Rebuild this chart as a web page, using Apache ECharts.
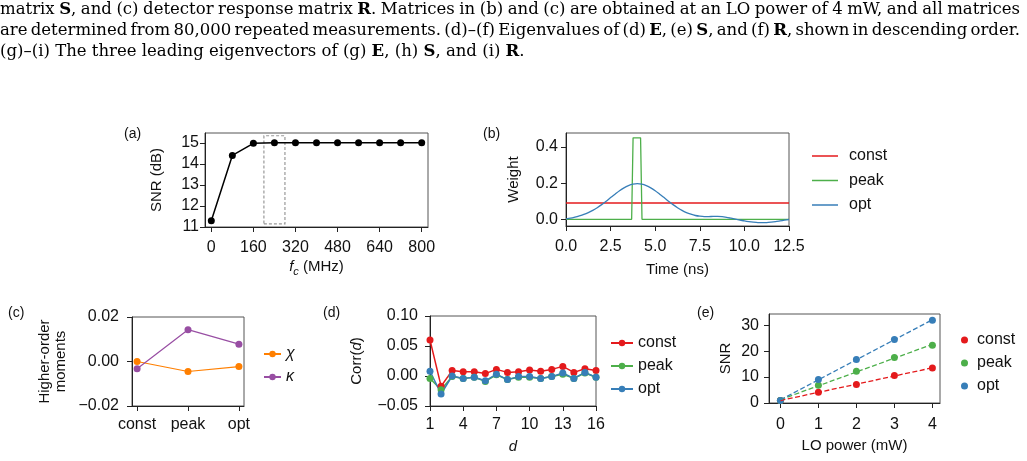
<!DOCTYPE html>
<html>
<head>
<meta charset="utf-8">
<script src="https://cdn.jsdelivr.net/npm/echarts@6/dist/echarts.min.js"></script>
<style>
html, body { margin: 0; padding: 0; background: #fff; }
#main { width: 1027px; height: 461px; }
</style>
</head>
<body>
<div id="main"></div>
<script>
// caption lines above the figure
const captionLines = [
  'matrix {b|S}, and (c) detector response matrix {b|R}. Matrices in (b) and (c) are obtained at an LO power of 4 mW, and all matrices',
  'are determined from 80,000 repeated measurements. (d)–(f) Eigenvalues of (d) {b|E}, (e) {b|S}, and (f) {b|R}, shown in descending order.',
  '(g)–(i) The three leading eigenvectors of (g) {b|E}, (h) {b|S}, and (i) {b|R}.'
];

// (a) SNR vs cutoff frequency
const fcMHz = [0, 80, 160, 240, 320, 400, 480, 560, 640, 720, 800];
const snrDb = [11.3, 14.41, 14.99, 15.01, 15.02, 15.02, 15.02, 15.02, 15.02, 15.02, 15.02];
const fcBox = [[200, 11.15], [280, 15.35]];
const fcTicks = [0, 160, 320, 480, 640, 800];
const snrDbTicks = [11, 12, 13, 14, 15];

// (b) weight functions
const timeNs = [0, 0.25, 0.5, 0.75, 1, 1.25, 1.5, 1.75, 2, 2.25, 2.5, 2.75, 3, 3.25, 3.5, 3.75, 4,
  4.25, 4.5, 4.75, 5, 5.25, 5.5, 5.75, 6, 6.25, 6.5, 6.75, 7, 7.25, 7.5, 7.75, 8, 8.25, 8.5, 8.75,
  9, 9.25, 9.5, 9.75, 10, 10.25, 10.5, 10.75, 11, 11.25, 11.5, 11.75, 12, 12.25, 12.5];
const weightOpt = [0.002, 0.006, 0.012, 0.019, 0.027, 0.037, 0.049, 0.064, 0.081, 0.100, 0.120, 0.139,
  0.158, 0.174, 0.186, 0.194, 0.197, 0.194, 0.186, 0.174, 0.158, 0.139, 0.120, 0.100, 0.081, 0.064,
  0.049, 0.037, 0.028, 0.021, 0.017, 0.015, 0.015, 0.016, 0.016, 0.015, 0.011, 0.006, 0.001, -0.004,
  -0.009, -0.013, -0.016, -0.018, -0.018, -0.018, -0.016, -0.013, -0.009, -0.005, -0.001];
const constTime = [0, 12.5];
const weightConst = [0.09, 0.09];
const peakTime = [0, 3.68, 3.76, 4.18, 4.26, 12.5];
const weightPeak = [0, 0, 0.45, 0.45, 0, 0];
const timeTicks = [0, 2.5, 5, 7.5, 10, 12.5];
const weightTicks = [0, 0.2, 0.4];

// (c) higher-order moments
const weightNames = ['const', 'peak', 'opt'];
const chi = [0.0, -0.0045, -0.0023];
const kappa = [-0.0033, 0.0143, 0.0078];
const momentTicks = [-0.02, 0, 0.02];

// (d) correlation vs lag
const lagD = [1, 2, 3, 4, 5, 6, 7, 8, 9, 10, 11, 12, 13, 14, 15, 16];
const corrConst = [0.060, -0.017, 0.009, 0.007, 0.007, 0.004, 0.011, 0.006, 0.007, 0.010, 0.008, 0.011, 0.016, 0.006, 0.012, 0.009];
const corrPeak = [-0.004, -0.023, -0.001, -0.004, -0.002, -0.009, 0.002, -0.006, -0.002, -0.002, -0.004, -0.001, 0.003, -0.004, 0.005, -0.002];
const corrOpt = [0.008, -0.030, 0.000, -0.004, -0.002, -0.008, 0.003, -0.006, -0.001, -0.001, -0.004, -0.001, 0.005, -0.004, 0.006, -0.002];
const lagTicks = [1, 4, 7, 10, 13, 16];
const corrTicks = [-0.05, 0, 0.05, 0.10];

// (e) SNR vs LO power
const loPower = [0, 1, 2, 3, 4];
const snrConst = [1.0, 4.1, 7.1, 10.6, 13.5];
const snrPeak = [1.0, 6.8, 12.2, 17.5, 22.3];
const snrOpt = [1.0, 9.1, 16.8, 24.5, 31.9];
const fitEnds = [0, 4];
const fitConst = [0.96, 13.56];
const fitPeak = [1.3, 22.6];
const fitOpt = [1.22, 32.1];
const powerTicks = [0, 1, 2, 3, 4];
const snrTicks = [0, 10, 20, 30];

const SANS = '"Liberation Sans", Arial, sans-serif';
const SERIF = '"DejaVu Serif", serif';
const RED = '#e41a1c', GREEN = '#4daf4a', BLUE = '#377eb8', ORANGE = '#ff7f00', PURPLE = '#984ea3';

const zip = (xs, ys) => xs.map((x, i) => [x, ys[i]]);
const minusFmt = (d) => (v) => (v < -1e-9 ? '\u2212' : '') + Math.abs(v).toFixed(d);
const stripTag = (name) => name.replace(/ \(.\)$/, '');

// caption text measuring (regular + bold parts)
const ctx = document.createElement('canvas').getContext('2d');
function textWidth(t, size) {
  let w = 0;
  t.split(/(\{b\|.*?\})/).forEach((seg) => {
    if (!seg) return;
    const m = seg.match(/^\{b\|(.*)\}$/);
    ctx.font = (m ? 'bold ' : '') + size + 'px "DejaVu Serif"';
    w += ctx.measureText(m ? m[1] : seg).width;
  });
  return w;
}
// size chosen so the last (ragged) line is as wide as in the figure
const capSize = 100 * 525 / textWidth(captionLines[2], 100);
const capWidth = 1020;

function axis(grid, min, max, ticks, fmt, margin) {
  return {
    type: 'value', gridIndex: grid, min: min, max: max,
    axisLine: { show: true, onZero: false, lineStyle: { color: '#222', width: 1 } },
    axisTick: { show: true, length: 5, customValues: ticks, lineStyle: { color: '#222', width: 1 } },
    axisLabel: { customValues: ticks, formatter: fmt, margin: margin, color: '#111', fontSize: 16, fontFamily: SANS },
    splitLine: { show: false },
    nameTextStyle: { color: '#111', fontSize: 15, fontFamily: SANS }
  };
}

function named(ax, name, gap, rich, extra) {
  ax.name = name;
  ax.nameLocation = 'middle';
  ax.nameGap = gap;
  if (rich) ax.nameTextStyle.rich = rich;
  Object.assign(ax.nameTextStyle, extra || {});
  return ax;
}

function legend(names, left, top, w, h, gap, pad, extra) {
  return Object.assign({
    data: names, orient: 'vertical', left: left, top: top, padding: 0,
    itemWidth: w, itemHeight: h, itemGap: gap, selectedMode: false,
    formatter: stripTag,
    textStyle: { fontSize: 16, fontFamily: SANS, color: '#111', padding: [0, 0, 0, pad] }
  }, extra || {});
}

const gridStyle = { show: true, borderColor: '#555', borderWidth: 1, containLabel: false };

const subRich = {
  i: { fontStyle: 'italic', fontSize: 15, fontFamily: SANS, color: '#111', lineHeight: 20 },
  s: { fontStyle: 'italic', fontSize: 11, fontFamily: SANS, color: '#111', lineHeight: 20, verticalAlign: 'bottom' }
};
const italRich = { i: { fontStyle: 'italic', fontSize: 15, fontFamily: SANS, color: '#111' } };

const lineIcon = (names) => names.map((n) => ({ name: n, icon: 'rect' }));

const option = {
  animation: false,
  backgroundColor: '#fff',
  grid: [
    Object.assign({ left: 205, top: 133, width: 223, height: 94 }, gridStyle),
    Object.assign({ left: 566, top: 133, width: 223, height: 93 }, gridStyle),
    Object.assign({ left: 132, top: 317, width: 112, height: 89 }, gridStyle),
    Object.assign({ left: 430, top: 316, width: 166, height: 90 }, gridStyle),
    Object.assign({ left: 769, top: 314, width: 171, height: 89 }, gridStyle)
  ],
  xAxis: [
    named(axis(0, -24, 824, fcTicks, null, 13), '{i|f}{s|c} (MHz)', 30, subRich, { lineHeight: 20 }),
    named(axis(1, 0, 12.5, timeTicks, (v) => v.toFixed(1), 13), 'Time (ns)', 36),
    axis(2, -0.1, 2.1, [0, 1, 2], (v) => weightNames[Math.round(v)], 11),
    named(axis(3, 1, 16, lagTicks, null, 11), 'd', 33, null, { fontStyle: 'italic' }),
    named(axis(4, -0.3, 4.2, powerTicks, null, 14), 'LO power (mW)', 35)
  ],
  yAxis: [
    named(axis(0, 11, 15.48, snrDbTicks, null, 6), 'SNR (dB)', 41),
    named(axis(1, -0.037, 0.477, weightTicks, (v) => v.toFixed(1), 8), 'Weight', 45),
    named(axis(2, -0.02, 0.02, momentTicks, minusFmt(2), 13), 'Higher-order\nmoments', 63, null, { lineHeight: 16 }),
    named(axis(3, -0.05, 0.10, corrTicks, minusFmt(2), 12), 'Corr({i|d})', 66, italRich),
    named(axis(4, 0, 34.3, snrTicks, null, 10), 'SNR', 36)
  ],
  legend: [
    legend(lineIcon(['const (b)', 'peak (b)', 'opt (b)']), 812, 148, 26, 1.5, 8.5, 6),
    legend(['χ (c)', 'κ (c)'], 263, 346, 17, 8, 7, 0,
      { textStyle: { fontSize: 16, fontFamily: SANS, fontStyle: 'italic', color: '#111', padding: [0, 0, 0, 0] } }),
    legend(['const (d)', 'peak (d)', 'opt (d)'], 610, 335, 22, 8, 7, 0),
    legend(['const (e)', 'peak (e)', 'opt (e)'], 961, 332, 7, 7, 7, 4)
  ],
  series: [
    // (a)
    {
      name: 'snr (a)', type: 'line', xAxisIndex: 0, yAxisIndex: 0,
      data: zip(fcMHz, snrDb), symbol: 'circle', symbolSize: 7,
      lineStyle: { color: '#000', width: 1.5 }, itemStyle: { color: '#000' },
      markArea: {
        silent: true, label: { show: false },
        itemStyle: { color: 'rgba(0,0,0,0)', borderColor: '#999', borderWidth: 1.2, borderType: [3, 2] },
        data: [[{ coord: fcBox[0] }, { coord: fcBox[1] }]]
      }
    },
    // (b)
    {
      name: 'const (b)', type: 'line', xAxisIndex: 1, yAxisIndex: 1, symbol: 'none',
      data: zip(constTime, weightConst), lineStyle: { color: RED, width: 1.3 }, itemStyle: { color: RED }
    },
    {
      name: 'peak (b)', type: 'line', xAxisIndex: 1, yAxisIndex: 1, symbol: 'none',
      data: zip(peakTime, weightPeak), lineStyle: { color: GREEN, width: 1.3 }, itemStyle: { color: GREEN }
    },
    {
      name: 'opt (b)', type: 'line', xAxisIndex: 1, yAxisIndex: 1, symbol: 'none', smooth: 0.2,
      data: zip(timeNs, weightOpt), lineStyle: { color: BLUE, width: 1.3 }, itemStyle: { color: BLUE }
    },
    // (c)
    {
      name: 'χ (c)', type: 'line', xAxisIndex: 2, yAxisIndex: 2, symbol: 'circle', symbolSize: 7,
      data: zip([0, 1, 2], chi), lineStyle: { color: ORANGE, width: 1.2 }, itemStyle: { color: ORANGE }
    },
    {
      name: 'κ (c)', type: 'line', xAxisIndex: 2, yAxisIndex: 2, symbol: 'circle', symbolSize: 7,
      data: zip([0, 1, 2], kappa), lineStyle: { color: PURPLE, width: 1.2 }, itemStyle: { color: PURPLE }
    },
    // (d)
    {
      name: 'const (d)', type: 'line', xAxisIndex: 3, yAxisIndex: 3, symbol: 'circle', symbolSize: 7,
      data: zip(lagD, corrConst), lineStyle: { color: RED, width: 1.5 }, itemStyle: { color: RED }
    },
    {
      name: 'peak (d)', type: 'line', xAxisIndex: 3, yAxisIndex: 3, symbol: 'circle', symbolSize: 7,
      data: zip(lagD, corrPeak), lineStyle: { color: GREEN, width: 1.5 }, itemStyle: { color: GREEN }
    },
    {
      name: 'opt (d)', type: 'line', xAxisIndex: 3, yAxisIndex: 3, symbol: 'circle', symbolSize: 7,
      data: zip(lagD, corrOpt), lineStyle: { color: BLUE, width: 1.5 }, itemStyle: { color: BLUE }
    },
    // (e) fits
    {
      name: 'fit const', type: 'line', xAxisIndex: 4, yAxisIndex: 4, symbol: 'none',
      data: zip(fitEnds, fitConst), lineStyle: { color: RED, width: 1.3, type: [5, 2.5] }
    },
    {
      name: 'fit peak', type: 'line', xAxisIndex: 4, yAxisIndex: 4, symbol: 'none',
      data: zip(fitEnds, fitPeak), lineStyle: { color: GREEN, width: 1.3, type: [5, 2.5] }
    },
    {
      name: 'fit opt', type: 'line', xAxisIndex: 4, yAxisIndex: 4, symbol: 'none',
      data: zip(fitEnds, fitOpt), lineStyle: { color: BLUE, width: 1.3, type: [5, 2.5] }
    },
    // (e) points
    {
      name: 'const (e)', type: 'scatter', xAxisIndex: 4, yAxisIndex: 4, symbolSize: 7,
      data: zip(loPower, snrConst), itemStyle: { color: RED, opacity: 1 }
    },
    {
      name: 'peak (e)', type: 'scatter', xAxisIndex: 4, yAxisIndex: 4, symbolSize: 7,
      data: zip(loPower, snrPeak), itemStyle: { color: GREEN, opacity: 1 }
    },
    {
      name: 'opt (e)', type: 'scatter', xAxisIndex: 4, yAxisIndex: 4, symbolSize: 7,
      data: zip(loPower, snrOpt), itemStyle: { color: BLUE, opacity: 1 }
    }
  ],
  graphic: []
};

// caption: first two lines justified word by word, last line ragged
const capY = [10, 31, 52];
const capRich = { b: { fontWeight: 'bold', fontSize: capSize, fontFamily: SERIF, fill: '#000' } };
function capText(t, x, y) {
  option.graphic.push({
    type: 'text', x: x, y: y, silent: true,
    style: { text: t, fontSize: capSize, fontFamily: SERIF, fill: '#000', verticalAlign: 'middle', rich: capRich }
  });
}
captionLines.forEach((t, i) => {
  if (i === captionLines.length - 1) { capText(t, 0, capY[i]); return; }
  const words = t.split(' ');
  const widths = words.map((w) => textWidth(w, capSize));
  const gap = (capWidth - widths.reduce((a, b) => a + b, 0)) / (words.length - 1);
  let x = 0;
  words.forEach((w, k) => { capText(w, x, capY[i]); x += widths[k] + gap; });
});

// panel letters
const panelLabels = [['(a)', 124, 134], ['(b)', 483, 134], ['(c)', 8, 313], ['(d)', 323, 313], ['(e)', 697, 313]];
panelLabels.forEach((p) => {
  option.graphic.push({
    type: 'text', x: p[1], y: p[2], silent: true,
    style: { text: p[0], fontSize: 14, fontFamily: SANS, fill: '#111', verticalAlign: 'middle' }
  });
});

const myChart = echarts.init(document.getElementById('main'));
myChart.setOption(option);
</script>
</body>
</html>
